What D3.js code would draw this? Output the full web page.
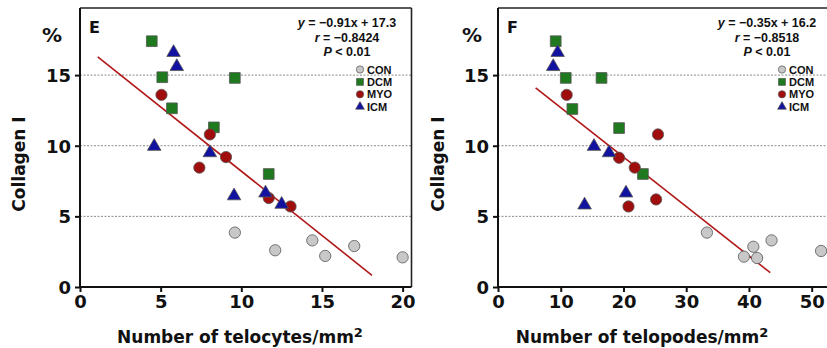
<!DOCTYPE html>
<html>
<head>
<meta charset="utf-8">
<script src="https://cdn.jsdelivr.net/npm/d3@7"></script>
<style>
  body { margin: 0; background: #fff; }
  svg { display: block; }
</style>
</head>
<body>
<svg id="chart" width="827" height="348"></svg>
<script>
// groups and legend
const groups = ["CON", "DCM", "MYO", "ICM"];
const yTicks = [0, 5, 10, 15];
const gridValues = [5, 10, 15];

// panel E: telocytes
const eXTicks = [0, 5, 10, 15, 20];
const eCON = [[9.6, 3.85], [12.1, 2.6], [14.4, 3.3], [15.2, 2.2], [17.0, 2.9], [20.0, 2.1]];
const eDCM = [[4.45, 17.4], [5.1, 14.85], [5.7, 12.65], [9.6, 14.8], [8.3, 11.3], [11.7, 8.0]];
const eMYO = [[5.05, 13.6], [8.05, 10.8], [9.05, 9.2], [7.4, 8.45], [11.7, 6.3], [13.05, 5.7]];
const eICM = [[5.8, 16.6], [6.0, 15.6], [4.6, 9.95], [8.05, 9.5], [9.55, 6.45], [11.5, 6.65], [12.5, 5.85]];
const eFit = { slope: -0.91, intercept: 17.3, from: 1.1, to: 18.1 };
const eStats = ["y = −0.91x + 17.3", "r = −0.8424", "P < 0.01"];

// panel F: telopodes
const fXTicks = [0, 10, 20, 30, 40, 50];
const fCON = [[33.3, 3.85], [39.2, 2.15], [40.7, 2.85], [41.3, 2.05], [43.6, 3.3], [51.5, 2.55]];
const fDCM = [[9.2, 17.4], [10.8, 14.8], [11.85, 12.6], [16.5, 14.8], [19.3, 11.25], [23.1, 8.0]];
const fMYO = [[10.95, 13.6], [19.3, 9.15], [21.8, 8.45], [20.8, 5.7], [25.2, 6.2], [25.5, 10.8]];
const fICM = [[9.5, 16.6], [8.8, 15.6], [15.3, 9.95], [17.7, 9.5], [20.4, 6.65], [13.8, 5.8]];
const fFit = { slope: -0.35, intercept: 16.2, from: 6.0, to: 43.4 };
const fStats = ["y = −0.35x + 16.2", "r = −0.8518", "P < 0.01"];

const style = {
  CON: { shape: d3.symbolCircle, fill: "#c8c8c8", size: 100 },
  DCM: { shape: d3.symbolSquare, fill: "#1f7a1f", size: 115 },
  MYO: { shape: d3.symbolCircle, fill: "#a00d0d", size: 100 },
  ICM: { shape: d3.symbolTriangle, fill: "#1212a0", size: 80 },
};
const boldFont = "'DejaVu Sans', Verdana, sans-serif";
const arialFont = "'Liberation Sans', Arial, sans-serif";

const svg = d3.select("#chart");

const panels = [
  {
    letter: "E", left: 80, right: 411.5, xMax: 20.55, xTicks: eXTicks,
    data: { CON: eCON, DCM: eDCM, MYO: eMYO, ICM: eICM },
    fit: eFit, stats: eStats, statsX: 347, legendX: 360,
    xTitle: "Number of telocytes/mm", titleX: 240, yTitleX: 25, pctX: 62,
    showRight: true,
  },
  {
    letter: "F", left: 498, right: 828, xMax: 52.6, xTicks: fXTicks,
    data: { CON: fCON, DCM: fDCM, MYO: fMYO, ICM: fICM },
    fit: fFit, stats: fStats, statsX: 767, legendX: 782,
    xTitle: "Number of telopodes/mm", titleX: 642, yTitleX: 444, pctX: 482,
    showRight: false,
  },
];

const plotTop = 8, plotBottom = 287;

panels.forEach((p) => {
  const x = d3.scaleLinear().domain([0, p.xMax]).range([p.left, p.right]);
  const y = d3.scaleLinear().domain([0, 19.75]).range([plotBottom, plotTop]);
  const g = svg.append("g");

  // dashed grid lines
  g.selectAll("line.grid")
    .data(gridValues)
    .enter()
    .append("line")
    .attr("x1", p.left).attr("x2", p.right)
    .attr("y1", (d) => y(d)).attr("y2", (d) => y(d))
    .attr("stroke", "#8a8a8a")
    .attr("stroke-width", 1)
    .attr("stroke-dasharray", "2,1.5");

  // frame (top + right)
  g.append("line")
    .attr("x1", p.left).attr("x2", p.right)
    .attr("y1", plotTop).attr("y2", plotTop)
    .attr("stroke", "#222").attr("stroke-width", 1.6);
  if (p.showRight) {
    g.append("line")
      .attr("x1", p.right).attr("x2", p.right)
      .attr("y1", plotTop).attr("y2", plotBottom)
      .attr("stroke", "#222").attr("stroke-width", 1.6);
  }

  // axes
  const xAxis = g.append("g")
    .attr("transform", `translate(0,${plotBottom})`)
    .call(d3.axisBottom(x).tickValues(p.xTicks).tickSize(5).tickPadding(3).tickSizeOuter(0));
  const yAxis = g.append("g")
    .attr("transform", `translate(${p.left},0)`)
    .call(d3.axisLeft(y).tickValues(yTicks).tickSize(5).tickPadding(4).tickSizeOuter(0));
  [xAxis, yAxis].forEach((a) => {
    a.select(".domain").attr("stroke", "#111").attr("stroke-width", 2);
    a.selectAll(".tick line").attr("stroke", "#111").attr("stroke-width", 2);
    a.selectAll(".tick text")
      .attr("fill", "#111")
      .style("font-family", boldFont)
      .style("font-weight", "bold")
      .style("font-size", "18px");
  });
  yAxis.selectAll(".tick text").attr("dy", "0.36em");
  yAxis.select(".domain").attr("d", `M0,${plotBottom}V${plotTop}`);
  xAxis.select(".domain").attr("d", `M${p.left},0H${p.right}`);

  // regression line
  const fitPts = [p.fit.from, p.fit.to].map((v) => [v, p.fit.slope * v + p.fit.intercept]);
  g.append("path")
    .datum(fitPts)
    .attr("d", d3.line().x((d) => x(d[0])).y((d) => y(d[1])))
    .attr("stroke", "#b01818")
    .attr("stroke-width", 1.6)
    .attr("fill", "none");

  // points
  groups.forEach((k) => {
    const s = style[k];
    g.selectAll(null)
      .data(p.data[k])
      .enter()
      .append("path")
      .attr("d", d3.symbol().type(s.shape).size(s.size))
      .attr("transform", (d) => `translate(${x(d[0])},${y(d[1])})`)
      .attr("fill", s.fill)
      .attr("stroke", "#555")
      .attr("stroke-width", 0.8);
  });

  // panel letter
  g.append("text")
    .attr("x", p.left + 9).attr("y", 33)
    .style("font-family", boldFont).style("font-weight", "bold").style("font-size", "16px")
    .attr("fill", "#111")
    .text(p.letter);

  // stats text
  g.selectAll("text.stat")
    .data(p.stats)
    .enter()
    .append("text")
    .attr("x", p.statsX)
    .attr("y", (d, i) => 27 + i * 14.5)
    .attr("text-anchor", "middle")
    .style("font-family", arialFont).style("font-weight", "bold").style("font-size", "12.5px")
    .attr("fill", "#111")
    .each(function (d) {
      const t = d3.select(this);
      const sp = d.indexOf(" ");
      t.append("tspan").style("font-style", "italic").text(d.slice(0, sp));
      t.append("tspan").text(d.slice(sp));
    });

  // legend
  groups.forEach((k, i) => {
    const s = style[k];
    const cy = 69.5 + i * 12.4;
    g.append("path")
      .attr("d", d3.symbol().type(s.shape).size(s.size * 0.42))
      .attr("transform", `translate(${p.legendX},${cy})`)
      .attr("fill", s.fill)
      .attr("stroke", "#555")
      .attr("stroke-width", 0.7);
    g.append("text")
      .attr("x", p.legendX + 7).attr("y", cy + 4)
      .style("font-family", arialFont).style("font-weight", "bold").style("font-size", "11px")
      .attr("fill", "#111")
      .text(k);
  });

  // axis titles
  g.append("text")
    .attr("x", p.titleX).attr("y", 343)
    .attr("text-anchor", "middle")
    .style("font-family", boldFont).style("font-weight", "bold").style("font-size", "17px")
    .attr("fill", "#111")
    .text(p.xTitle)
    .append("tspan")
    .attr("dy", "-0.45em")
    .style("font-size", "13px")
    .text("2");

  g.append("text")
    .attr("transform", `translate(${p.yTitleX},164) rotate(-90)`)
    .attr("text-anchor", "middle")
    .style("font-family", boldFont).style("font-weight", "bold").style("font-size", "17px")
    .attr("fill", "#111")
    .text("Collagen I");

  g.append("text")
    .attr("x", p.pctX).attr("y", 42)
    .attr("text-anchor", "end")
    .style("font-family", boldFont).style("font-weight", "bold").style("font-size", "20px")
    .attr("fill", "#111")
    .text("%");
});
</script>
</body>
</html>
